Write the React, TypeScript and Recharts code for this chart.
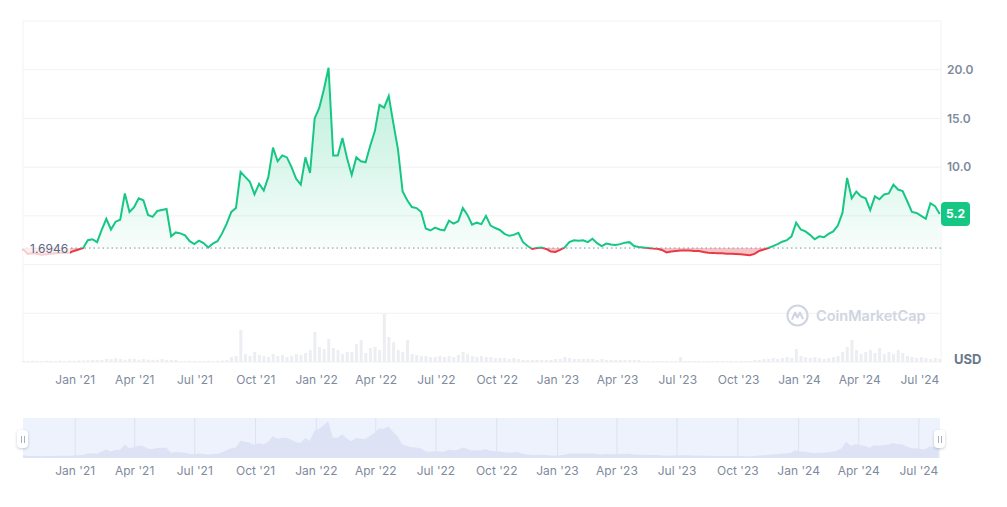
import {
  ComposedChart,
  AreaChart,
  Area,
  Bar,
  XAxis,
  YAxis,
  CartesianGrid,
  ReferenceLine,
} from "recharts";

// weekly closes, first week starting 2020-10-14
const START_DATE = "2020-10-14";

const prices = [
  1.6, 1.1, 1.15, 1.1, 1.0, 1.05, 1.1, 1.15, 1.2, 1.25,
  1.2, 1.4, 1.55, 1.7, 2.5, 2.6, 2.3, 3.55, 4.7, 3.6,
  4.4, 4.6, 7.3, 5.4, 5.9, 6.8, 6.6, 5.1, 4.9, 5.5,
  5.6, 5.7, 2.9, 3.3, 3.2, 3.0, 2.4, 2.1, 2.45, 2.2,
  1.75, 2.15, 2.4, 3.2, 4.2, 5.4, 5.8, 9.5, 9.0, 8.5,
  7.2, 8.3, 7.6, 9.0, 12.0, 10.6, 11.2, 11.0, 10.0, 8.8,
  8.2, 11.0, 9.4, 15.0, 16.1, 18.0, 20.2, 11.2, 11.2, 13.0,
  10.9, 9.2, 11.0, 10.6, 10.5, 12.2, 13.7, 16.4, 16.1, 17.3,
  14.5, 11.8, 7.5, 6.6, 5.9, 5.8, 5.4, 3.7, 3.5, 3.8,
  3.6, 3.5, 4.5, 4.2, 4.45, 5.8, 5.1, 4.1, 4.3, 4.15,
  5.0, 4.0, 3.75, 3.55, 3.15, 2.95, 3.05, 3.25, 2.3, 1.9,
  1.6, 1.7, 1.75, 1.6, 1.35, 1.3, 1.5, 1.75, 2.3, 2.5,
  2.45, 2.5, 2.3, 2.65, 2.2, 1.9, 2.15, 2.05, 2.0, 2.1,
  2.25, 2.3, 1.9, 1.8, 1.75, 1.7, 1.65, 1.62, 1.5, 1.25,
  1.35, 1.4, 1.45, 1.45, 1.45, 1.4, 1.4, 1.3, 1.22, 1.2,
  1.15, 1.15, 1.12, 1.1, 1.08, 1.05, 1.0, 0.95, 1.1, 1.4,
  1.55, 1.7, 1.9, 2.1, 2.35, 2.5, 2.9, 4.3, 3.6, 3.4,
  3.05, 2.6, 2.9, 2.8, 3.15, 3.4, 4.0, 5.3, 8.9, 6.8,
  7.5, 7.0, 6.8, 5.6, 7.0, 6.7, 7.2, 7.3, 8.2, 7.7,
  7.55, 6.5, 5.4, 5.3, 5.0, 4.7, 6.3, 6.0, 5.2,
];

// weekly volume (millions USD, rough)
const volumes = [
  20, 20, 25, 20, 20, 25, 20, 20, 25, 20, 30, 25, 30, 30, 35, 40, 40,
  40, 60, 60, 80, 60, 45, 65, 60, 45, 60, 45, 40, 45, 60, 40, 40, 40,
  20, 20, 25, 20, 20, 20, 25, 20, 25, 30, 40,
  100, 120, 640,
  160, 120, 200, 140, 120, 100, 160, 120, 140, 100, 120, 160, 140, 180, 240,
  600, 300, 260, 460, 280, 240, 160, 200, 200, 360, 440,
  180, 280, 300, 240, 960, 500, 400, 240, 200, 440,
  160, 140, 120, 120, 100, 100, 120, 100, 120, 100,
  140, 200, 160, 120, 100, 120, 100, 100, 80, 80, 80, 60, 80, 60,
  40, 40, 40, 40, 40, 40, 40, 60,
  60, 100, 80, 60, 60, 60, 60, 60, 40, 60, 40, 40, 40, 40, 40, 40, 40, 40,
  20, 20, 20, 20, 20, 20, 20, 20, 100,
  20, 20, 20, 20, 20, 20, 20, 20, 20, 20, 20, 20, 20, 20, 20,
  40, 40, 60, 60, 80, 60, 80, 100, 80, 260,
  120, 100, 80, 100, 80, 60, 80, 100, 120, 200, 300, 440,
  240, 160, 200, 240, 180, 280, 160, 200, 160, 240, 180, 120, 100, 80, 100, 80, 60, 80, 60,
];

const tickDates = [
  "2021-01-01", "2021-04-01", "2021-07-01", "2021-10-01",
  "2022-01-01", "2022-04-01", "2022-07-01", "2022-10-01",
  "2023-01-01", "2023-04-01", "2023-07-01", "2023-10-01",
  "2024-01-01", "2024-04-01", "2024-07-01",
];
const tickLabels = [
  "Jan '21", "Apr '21", "Jul '21", "Oct '21",
  "Jan '22", "Apr '22", "Jul '22", "Oct '22",
  "Jan '23", "Apr '23", "Jul '23", "Oct '23",
  "Jan '24", "Apr '24", "Jul '24",
];
const priceTicks = [-10, -5, 0, 5, 10, 15, 20, 25];

const openPrice = 1.6946;
const lastPrice = 5.2;

const GREEN = "#16c784";
const RED = "#ea3943";
const AXIS = "#808a9d";
const GRID = "#eff2f5";

const DAY = 86400000;
const t0 = Date.parse(START_DATE);
const data = prices.map((price, i) => ({
  t: t0 + i * 7 * DAY,
  price,
  volume: volumes[i],
}));
const xDomain = [data[0].t, data[data.length - 1].t + 2 * DAY];
const ticks = tickDates.map((d) => Date.parse(d));
const tickLabel = (t: number) => tickLabels[ticks.indexOf(t)] ?? "";

const maxP = Math.max(...prices);
const minP = Math.min(...prices);
const split = (maxP - openPrice) / (maxP - minP);

function OpenLabel(props: any) {
  const vb = props.viewBox;
  return (
    <g>
      <rect x={vb.x} y={vb.y - 9} width={47} height={18} fill="#fff" fillOpacity={0.75} />
      <text x={vb.x + 7} y={vb.y} dominantBaseline="central" fontSize={12} fill="#58667e">
        {openPrice}
      </text>
    </g>
  );
}

function PriceBadge(props: any) {
  const vb = props.viewBox;
  const x = vb.x + vb.width;
  return (
    <g>
      <rect x={x} y={vb.y - 12} width={29} height={24} rx={4} fill={GREEN} />
      <text
        x={x + 14.5}
        y={vb.y}
        textAnchor="middle"
        dominantBaseline="central"
        fontSize={12}
        fontWeight={700}
        fill="#fff"
      >
        {lastPrice}
      </text>
    </g>
  );
}

function Handle({ left }: { left: number }) {
  return (
    <div
      style={{
        position: "absolute",
        left,
        top: 430,
        width: 11,
        height: 18,
        background: "#fff",
        borderRadius: 4,
        boxShadow: "0 1px 3px rgba(88,102,126,0.35)",
        display: "flex",
        justifyContent: "center",
        alignItems: "center",
        gap: 2,
      }}
    >
      <div style={{ width: 1, height: 7, background: "#a6b0c3" }} />
      <div style={{ width: 1, height: 7, background: "#a6b0c3" }} />
    </div>
  );
}

export default function App() {
  return (
    <div
      style={{
        position: "absolute",
        left: 0,
        top: 0,
        width: 1007,
        height: 507,
        background: "#fff",
        fontFamily: "Inter, sans-serif",
      }}
    >
      <div style={{ position: "absolute", left: 0, top: 0 }}>
        <ComposedChart
          width={1007}
          height={400}
          data={data}
          margin={{ top: 21, right: 0, left: 23, bottom: 8 }}
        >
          <defs>
            <linearGradient id="priceFill" x1="0" y1="0" x2="0" y2="1">
              <stop offset={0} stopColor={GREEN} stopOpacity={0.3} />
              <stop offset={split} stopColor={GREEN} stopOpacity={0.03} />
              <stop offset={split} stopColor={RED} stopOpacity={0.3} />
              <stop offset={1} stopColor={RED} stopOpacity={0.3} />
            </linearGradient>
            <linearGradient id="priceStroke" x1="0" y1="0" x2="0" y2="1">
              <stop offset={split} stopColor={GREEN} />
              <stop offset={split} stopColor={RED} />
            </linearGradient>
          </defs>
          <CartesianGrid
            yAxisId="price"
            stroke={GRID}
            verticalCoordinatesGenerator={({ offset }: any) => [
              offset.left,
              offset.left + offset.width,
            ]}
          />
          <XAxis
            dataKey="t"
            type="number"
            domain={xDomain}
            ticks={ticks}
            tickFormatter={tickLabel}
            axisLine={false}
            tickLine={false}
            tickMargin={7}
            height={30}
            tick={{ fill: AXIS, fontSize: 12 }}
          />
          <YAxis
            yAxisId="price"
            orientation="right"
            domain={[-10, 25]}
            ticks={priceTicks}
            tickFormatter={(v: number) => (v >= 10 && v <= 20 ? v.toFixed(1) : "")}
            width={66}
            axisLine={false}
            tickLine={false}
            tickMargin={0}
            tick={{ fill: AXIS, fontSize: 12, fontWeight: 600 }}
          />
          <YAxis yAxisId="vol" hide domain={[0, 6820]} />
          <Bar
            yAxisId="vol"
            dataKey="volume"
            fill="#eceef2"
            barSize={3}
            isAnimationActive={false}
          />
          <Area
            yAxisId="price"
            type="linear"
            dataKey="price"
            baseValue={openPrice}
            stroke="url(#priceStroke)"
            strokeWidth={2}
            fill="url(#priceFill)"
            fillOpacity={1}
            dot={false}
            activeDot={false}
            isAnimationActive={false}
          />
          <ReferenceLine
            yAxisId="price"
            y={openPrice}
            stroke="#858ca2"
            strokeDasharray="1.5 3"
            label={<OpenLabel />}
          />
          <ReferenceLine
            yAxisId="price"
            y={lastPrice}
            stroke="none"
            label={<PriceBadge />}
          />
        </ComposedChart>
      </div>

      <div
        style={{
          position: "absolute",
          left: 786,
          top: 304,
          display: "flex",
          alignItems: "center",
          gap: 7,
          color: "#cfd5e2",
          fontSize: 14.5,
          fontWeight: 600,
          pointerEvents: "none",
        }}
      >
        <svg width={23} height={23} viewBox="0 0 24 24">
          <circle cx={12} cy={12} r={10.5} fill="none" stroke="#cfd5e2" strokeWidth={2.2} />
          <path
            d="M6.5 15.5 L9.5 9 L12 14 L14.5 9 L17.5 15"
            fill="none"
            stroke="#cfd5e2"
            strokeWidth={2.2}
            strokeLinejoin="round"
            strokeLinecap="round"
          />
        </svg>
        <span>CoinMarketCap</span>
      </div>

      <div
        style={{
          position: "absolute",
          left: 954,
          top: 351,
          fontSize: 13,
          fontWeight: 700,
          color: "#6b778c",
        }}
      >
        USD
      </div>

      <div style={{ position: "absolute", left: 0, top: 400 }}>
        <AreaChart
          width={1007}
          height={100}
          data={data}
          margin={{ top: 18, right: 67, left: 23, bottom: 12 }}
        >
          <CartesianGrid horizontal={false} fill="#eef2fd" stroke="#dde2f0" syncWithTicks />
          <XAxis
            dataKey="t"
            type="number"
            domain={xDomain}
            ticks={ticks}
            tickFormatter={tickLabel}
            axisLine={false}
            tickLine={false}
            height={30}
            tick={{ fill: AXIS, fontSize: 12 }}
          />
          <YAxis hide domain={[0, 22]} />
          <Area
            type="linear"
            dataKey="price"
            stroke="none"
            fill="#dde3f4"
            fillOpacity={1}
            dot={false}
            activeDot={false}
            isAnimationActive={false}
          />
        </AreaChart>
      </div>
      <Handle left={17} />
      <Handle left={934} />
    </div>
  );
}
